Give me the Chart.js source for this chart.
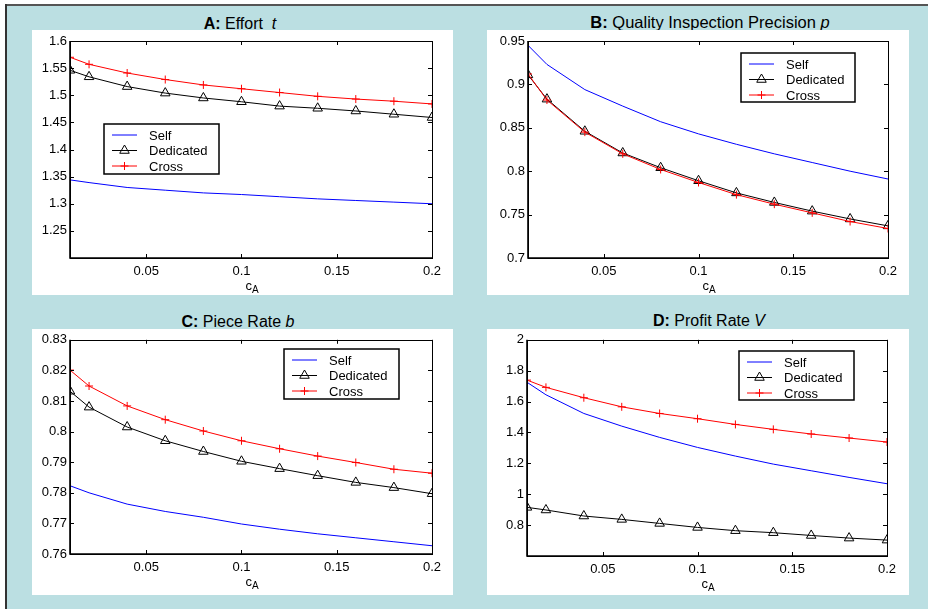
<!DOCTYPE html>
<html>
<head>
<meta charset="utf-8">
<script src="https://cdn.jsdelivr.net/npm/chart.js@4.4.0/dist/chart.umd.min.js"></script>
<style>
  body { margin: 0; background: #fff; font-family: "Liberation Sans", Arial, sans-serif; }
  #wrap { position: relative; width: 928px; height: 609px; overflow: hidden; background: #fff; }
  #bg { position: absolute; left: 7px; top: 6px; right: 0; bottom: 0; background: #bbdfe2; }
  #topline { position: absolute; left: 5px; top: 4px; right: 0; height: 2px; background: #555; }
  #leftline { position: absolute; left: 5px; top: 4px; width: 2px; bottom: 0; background: #333; }
  .panel { position: absolute; background: #fff; }
  .title { position: absolute; width: 400px; text-align: center; font-size: 16px; line-height: 18px; color: #000; white-space: nowrap; }
</style>
</head>
<body>
<div id="wrap">
  <div id="bg"></div>
  <div id="topline"></div>
  <div id="leftline"></div>

  <div class="title" style="left:40px;top:15px"><b>A:</b> Effort &nbsp;<i>t</i></div>
  <div class="title" style="left:510px;top:13px;font-size:16.5px"><b>B:</b> Quality Inspection Precision <i>p</i></div>
  <div class="title" style="left:38px;top:313px"><b>C:</b> Piece Rate <i>b</i></div>
  <div class="title" style="left:509px;top:312px"><b>D:</b> Profit Rate <i>V</i></div>

  <div class="panel" style="left:32px;top:30px;width:421px;height:265px"><canvas id="chartA" width="421" height="265"></canvas></div>
  <div class="panel" style="left:487px;top:30px;width:422px;height:265px"><canvas id="chartB" width="422" height="265"></canvas></div>
  <div class="panel" style="left:32px;top:329px;width:421px;height:266px"><canvas id="chartC" width="421" height="266"></canvas></div>
  <div class="panel" style="left:487px;top:329px;width:422px;height:266px"><canvas id="chartD" width="422" height="266"></canvas></div>
</div>

<script>
// ── данные ──
const XS = [0.01, 0.02, 0.04, 0.06, 0.08, 0.10, 0.12, 0.14, 0.16, 0.18, 0.20];
const X_TICKS = [0.05, 0.1, 0.15, 0.2];
const SERIES_NAMES = ['Self', 'Dedicated', 'Cross'];

// A: Effort t
const selfA  = [1.344, 1.339, 1.330, 1.325, 1.320, 1.317, 1.313, 1.309, 1.306, 1.303, 1.300];
const dedA   = [1.546, 1.534, 1.516, 1.504, 1.495, 1.488, 1.480, 1.476, 1.471, 1.465, 1.459];
const crossA = [1.570, 1.557, 1.541, 1.529, 1.519, 1.512, 1.505, 1.498, 1.493, 1.489, 1.484];
const yTicksA = [1.25, 1.3, 1.35, 1.4, 1.45, 1.5, 1.55, 1.6];

// B: Quality Inspection Precision p
const selfB  = [0.945, 0.923, 0.894, 0.875, 0.857, 0.843, 0.831, 0.820, 0.810, 0.800, 0.791];
const dedB   = [0.911, 0.883, 0.846, 0.821, 0.804, 0.789, 0.775, 0.764, 0.754, 0.745, 0.737];
const crossB = [0.912, 0.882, 0.845, 0.820, 0.802, 0.787, 0.773, 0.762, 0.752, 0.742, 0.734];
const yTicksB = [0.7, 0.75, 0.8, 0.85, 0.9, 0.95];

// C: Piece Rate b
const selfC  = [0.7823, 0.7800, 0.7763, 0.7739, 0.7720, 0.7698, 0.7681, 0.7666, 0.7653, 0.7640, 0.7627];
const dedC   = [0.8132, 0.8080, 0.8015, 0.7970, 0.7935, 0.7903, 0.7879, 0.7856, 0.7834, 0.7817, 0.7797];
const crossC = [0.8201, 0.8149, 0.8084, 0.8039, 0.8002, 0.7970, 0.7944, 0.7920, 0.7899, 0.7877, 0.7864];
const yTicksC = [0.76, 0.77, 0.78, 0.79, 0.8, 0.81, 0.82, 0.83];

// D: Profit Rate V
const selfD  = [1.725, 1.644, 1.523, 1.441, 1.368, 1.303, 1.247, 1.195, 1.152, 1.109, 1.068];
const dedD   = [0.915, 0.898, 0.859, 0.837, 0.811, 0.785, 0.764, 0.751, 0.733, 0.716, 0.703];
const crossD = [1.739, 1.692, 1.625, 1.566, 1.523, 1.489, 1.452, 1.420, 1.390, 1.364, 1.338];
const yTicksD = [0.8, 1, 1.2, 1.4, 1.6, 1.8, 2];

const FONT = '"Liberation Sans", Arial, sans-serif';

// ── рамка в стиле MATLAB: бокс, внутренние засечки, подпись оси, легенда ──
const matBox = {
  id: 'matBox',
  afterDraw(chart, args, opts) {
    const ctx = chart.ctx;
    const a = chart.chartArea;
    const sx = chart.scales.x, sy = chart.scales.y;
    ctx.save();
    ctx.strokeStyle = '#000';

    // засечки внутрь
    ctx.lineWidth = 1;
    ctx.beginPath();
    sx.ticks.forEach(t => {
      const px = Math.round(sx.getPixelForValue(t.value)) + 0.5;
      ctx.moveTo(px, a.bottom); ctx.lineTo(px, a.bottom - 4);
      ctx.moveTo(px, a.top);    ctx.lineTo(px, a.top + 4);
    });
    sy.ticks.forEach(t => {
      const py = Math.round(sy.getPixelForValue(t.value)) + 0.5;
      ctx.moveTo(a.left, py);  ctx.lineTo(a.left + 4, py);
      ctx.moveTo(a.right, py); ctx.lineTo(a.right - 4, py);
    });
    ctx.stroke();

    // бокс
    ctx.strokeRect(Math.round(a.left) + 0.5, Math.round(a.top) + 0.5, Math.round(a.right - a.left), Math.round(a.bottom - a.top));
    ctx.lineWidth = 1.6;
    ctx.beginPath();
    ctx.moveTo(a.left, a.top); ctx.lineTo(a.left, a.bottom); ctx.lineTo(a.right, a.bottom);
    ctx.stroke();

    // подпись оси c_A
    const cx = (a.left + a.right) / 2;
    ctx.fillStyle = '#000';
    ctx.textBaseline = 'alphabetic';
    ctx.textAlign = 'right';
    ctx.font = '13px ' + FONT;
    ctx.fillText('c', cx + 1, a.bottom + 32);
    ctx.textAlign = 'left';
    ctx.font = '10px ' + FONT;
    ctx.fillText('A', cx + 1, a.bottom + 35);

    // легенда
    const L = opts.box;
    if (L) {
      ctx.fillStyle = '#fff';
      ctx.fillRect(L.x, L.y, L.w, L.h);
      ctx.lineWidth = 1.5;
      ctx.strokeStyle = '#000';
      ctx.strokeRect(L.x, L.y, L.w, L.h);
      chart.data.datasets.forEach((ds, i) => {
        const y = L.y + 11 + i * 15.5;
        ctx.strokeStyle = ds.borderColor;
        ctx.lineWidth = 1;
        ctx.beginPath();
        ctx.moveTo(L.x + 8, y); ctx.lineTo(L.x + 33, y);
        ctx.stroke();
        if (ds.pointRadius > 0) {
          ctx.fillStyle = 'rgba(0,0,0,0)';
          Chart.helpers.drawPoint(ctx, { pointStyle: ds.pointStyle, radius: ds.pointRadius, rotation: 0, borderWidth: 1 }, L.x + 20.5, y);
        }
        ctx.fillStyle = '#000';
        ctx.font = '13px ' + FONT;
        ctx.textAlign = 'left';
        ctx.textBaseline = 'middle';
        ctx.fillText(ds.label, L.x + 45, y + 1);
      });
    }
    ctx.restore();
  }
};

function pts(ys) {
  return XS.map((x, i) => ({ x: x, y: ys[i] }));
}

function makeChart(id, self, ded, cross, yMin, yMax, yTicks, area, legendBox) {
  const canvas = document.getElementById(id);
  const W = canvas.width, H = canvas.height;
  return new Chart(canvas, {
    type: 'line',
    data: {
      datasets: [
        { label: SERIES_NAMES[0], data: pts(self), borderColor: '#0000ff', borderWidth: 1,
          pointRadius: 0, tension: 0, order: 2 },
        { label: SERIES_NAMES[1], data: pts(ded), borderColor: '#000000', borderWidth: 1,
          pointStyle: 'triangle', pointRadius: 5.5, pointBorderColor: '#000000', pointBorderWidth: 1,
          pointBackgroundColor: 'rgba(0,0,0,0)', tension: 0, order: 1 },
        { label: SERIES_NAMES[2], data: pts(cross), borderColor: '#ff0000', borderWidth: 1,
          pointStyle: 'cross', pointRadius: 4, pointBorderColor: '#ff0000', pointBorderWidth: 1,
          tension: 0, order: 0 },
      ],
    },
    options: {
      responsive: false, animation: false,
      layout: { padding: { left: 0, top: area.top, right: W - area.right, bottom: 0 } },
      plugins: {
        legend: { display: false },
        tooltip: { enabled: false },
        matBox: { box: legendBox },
      },
      scales: {
        x: {
          type: 'linear', min: 0.01, max: 0.2,
          grid: { display: false, drawTicks: false }, border: { display: false },
          ticks: { color: '#000', font: { family: FONT, size: 13 }, padding: 6, maxRotation: 0,
                   callback: v => String(v) },
          afterBuildTicks: s => { s.ticks = X_TICKS.map(v => ({ value: v })); },
          afterFit: s => { s.height = H - area.bottom; },
        },
        y: {
          type: 'linear', min: yMin, max: yMax,
          grid: { display: false, drawTicks: false }, border: { display: false },
          ticks: { color: '#000', font: { family: FONT, size: 13 }, padding: 3,
                   callback: v => String(v) },
          afterBuildTicks: s => { s.ticks = yTicks.map(v => ({ value: v })); },
          afterFit: s => { s.width = area.left; },
        },
      },
    },
    plugins: [matBox],
  });
}

makeChart('chartA', selfA, dedA, crossA, 1.2, 1.6, yTicksA,
  { left: 38, right: 400, top: 11, bottom: 228 }, { x: 72, y: 94, w: 115, h: 50 });
makeChart('chartB', selfB, dedB, crossB, 0.7, 0.95, yTicksB,
  { left: 41, right: 401, top: 11, bottom: 228 }, { x: 254, y: 23, w: 114, h: 49 });
makeChart('chartC', selfC, dedC, crossC, 0.76, 0.83, yTicksC,
  { left: 38, right: 400, top: 9, bottom: 225 }, { x: 252, y: 20, w: 115, h: 50 });
makeChart('chartD', selfD, dedD, crossD, 0.6, 2, yTicksD,
  { left: 40, right: 400, top: 10, bottom: 227 }, { x: 252, y: 22, w: 115, h: 49 });
</script>
</body>
</html>
